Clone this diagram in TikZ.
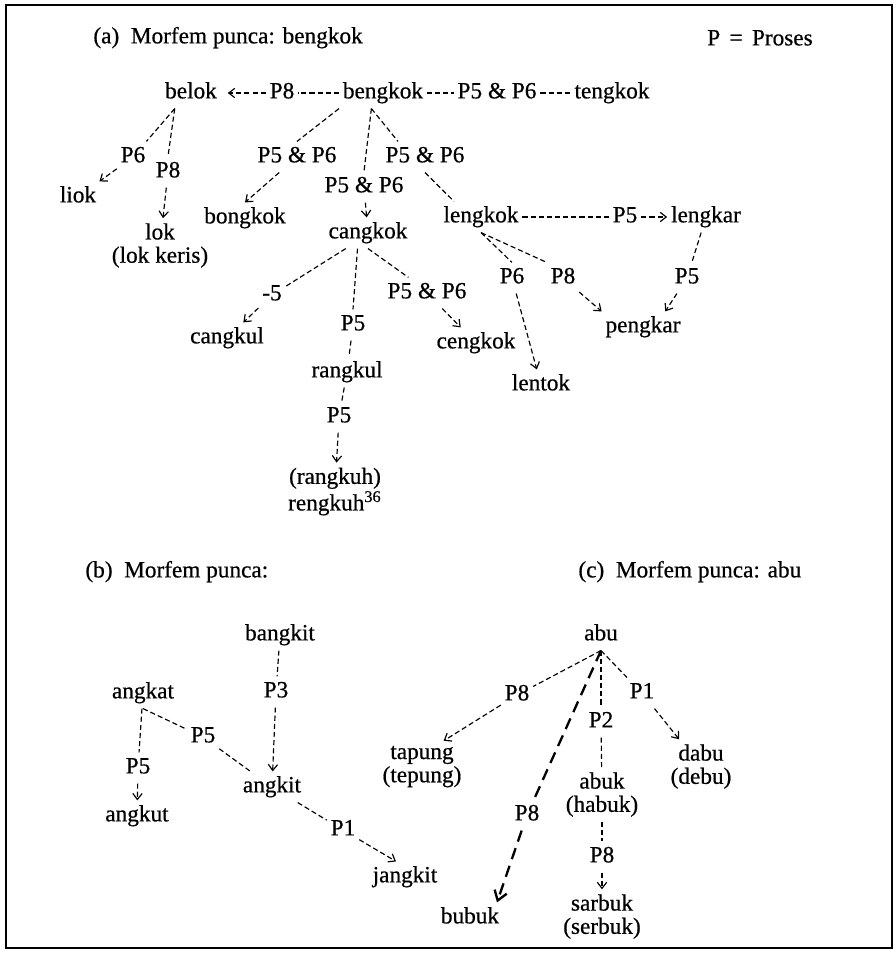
\documentclass[tikz,border=0pt]{standalone}
\usepackage{fontspec}
\setmainfont{Liberation Serif}[FakeBold=0.6]
\usetikzlibrary{arrows.meta}

\begin{document}
\begin{tikzpicture}[x=0.43pt,y=-0.43pt,
  word/.style={inner xsep=1.5pt,inner ysep=2pt,text height=6.8pt,text depth=2.2pt},
  pair/.style={inner xsep=1.5pt,inner ysep=2pt,align=center,font=\fontsize{10}{10}\selectfont},
  lnk/.style={line width=0.5pt,dash pattern=on 2.2pt off 1.3pt},
  arr/.style={lnk,-{Straight Barb[length=2.6pt,width=4pt]}},
  heavy lnk/.style={line width=1pt,dash pattern=on 5pt off 3pt},
  heavy arr/.style={heavy lnk,-{Straight Barb[length=4pt,width=5.5pt]}}]
 \useasboundingbox (0,0) rectangle (896,953);
 \draw[line width=0.7pt] (6,5) rectangle (892,948);

 % (a) bengkok
 \node[word,anchor=west] (ta) at (89.5,38) {(a)~~Morfem punca: bengkok};
 \node[word] (key) at (760,40) {P\hspace{4pt}=\hspace{4pt}Proses};
 \foreach \n/\x/\y/\t in {belok/191/93/belok, p8a/282/93/P8, bengkok/383/93/bengkok,
   p56a/497/93/P5 \& P6, tengkok/612/93/tengkok, p6a/133/157/P6, p8b/168/172/P8,
   liok/78/197/liok, p56b/297/157/P5 \& P6, bongkok/245/218/bongkok,
   p56c/364/187/P5 \& P6, cangkok/368/233/cangkok, p56d/425/157/P5 \& P6,
   lengkok/481/217/lengkok, p5a/625/217/P5, lengkar/706/217/lengkar,
   p6b/512/278/P6, p8c/563/278/P8, p5b/687/278/P5, lentok/541/385/lentok,
   pengkar/643/327/pengkar, m5/272/295/-5, cangkul/227/338/cangkul,
   p5c/353/325/P5, rangkul/347/372/rangkul, p5d/339/417/P5,
   p56e/427/293/P5 \& P6, cengkok/476/343/cengkok}
   \node[word] (\n) at (\x,\y) {\t};
 \node[pair] (lok) at (160,245.5) {lok\\(lok keris)};
 \node[pair] (rangkuh) at (335,491.6) {(rangkuh)\\rengkuh\textsuperscript{36}};
 \coordinate (belokfoot) at ([xshift=-7pt]belok.south);
 \coordinate (bengkokfoot) at ([xshift=-5pt]bengkok.south);

 % (b) and (c)
 \node[word,anchor=west] (tb) at (81.5,572) {(b)~~Morfem punca:};
 \node[word,anchor=west] (tc) at (574.5,572) {(c)~~Morfem punca: abu};
 \foreach \n/\x/\y/\t in {bangkit/280/635/bangkit, p3/276/692/P3, angkit/272/787/angkit,
   angkat/143/693/angkat, p5e/138/768/P5, angkut/137/816/angkut, p5f/203/737/P5,
   p1a/343/830/P1, jangkit/405/877/jangkit,
   abu/601/635/abu, p8d/517/695/P8, p2/601/722/P2, p8e/602/857/P8,
   p1b/642/693/P1, p8f/527/815/P8, bubuk/470/918/bubuk}
   \node[word] (\n) at (\x,\y) {\t};
 \node[pair] (tapung) at (422,766.6) {tapung\\(tepung)};
 \node[pair] (abuk) at (602,794.6) {abuk\\(habuk)};
 \node[pair] (sarbuk) at (602,916.6) {sarbuk\\(serbuk)};
 \node[pair] (dabu) at (701,766.6) {dabu\\(debu)};

 % connectors
 \foreach \a/\b in {bengkok/p8a, bengkok/p56a, p56a/tengkok,
   belokfoot/p6a, belokfoot/p8b.north,
   bengkok.south west/p56b.north, bengkokfoot/p56c.north,
   bengkokfoot/p56d.150, p56d.south/lengkok.150,
   lengkok/p5a, lengkok.south/p6b.north, lengkok.south/p8c.north west, lengkar/p5b,
   cangkok.215/m5, cangkok.236/p5c.north, p5c/rangkul, rangkul/p5d,
   cangkok.south/p56e.140,
   bangkit/p3, angkat/p5e, angkat.south/p5f, p5f/angkit, angkit/p1a,
   abu.south/p8d, abu.south/p2, p2/abuk, abuk/p8e, abu.south/p1b}
   \draw[lnk] (\a) -- (\b);
 \foreach \a/\b in {p6a/liok, p8b/lok, p56b/bongkok.north, p56c/cangkok,
   p5a/lengkar, p6b/lentok, p8c/pengkar.north west, p5b/pengkar.35, m5/cangkul,
   p5d/rangkuh, p56e/cengkok, p3/angkit, p5e/angkut, p1a/jangkit.120,
   p8d/tapung.50, p8e/sarbuk, p1b/dabu}
   \draw[arr] (\a) -- (\b);
 \draw[arr,shorten >=3pt] (p8a) -- (belok);
 \draw[heavy lnk] (abu.south) -- (p8f);
 \draw[heavy arr] (p8f) -- (bubuk.30);
\end{tikzpicture}
\end{document}
